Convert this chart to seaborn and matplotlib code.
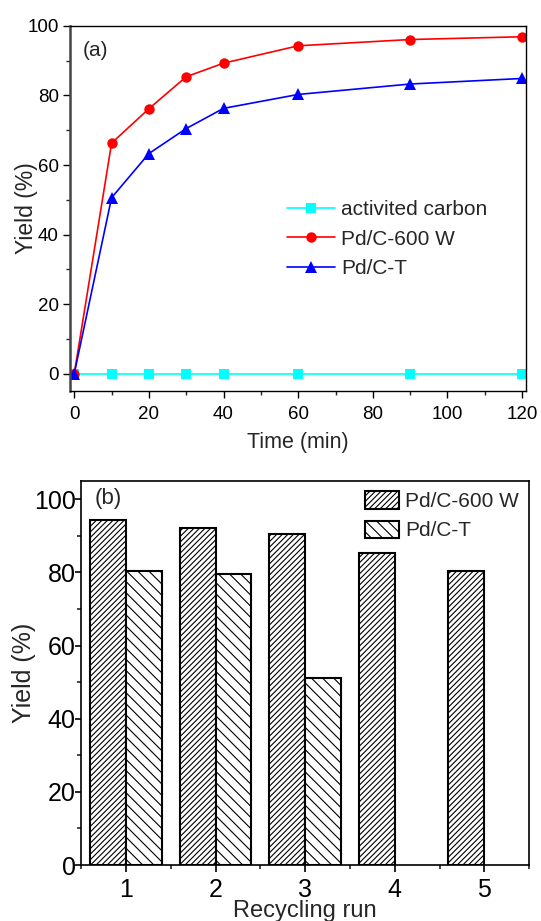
import numpy as np
import pandas as pd
import matplotlib
matplotlib.use("Agg")
import matplotlib.pyplot as plt
from matplotlib.ticker import MultipleLocator
import seaborn as sns

# ---- data -------------------------------------------------------------
time_min = [0, 10, 20, 30, 40, 60, 90, 120]
yield_carbon = [0, 0, 0, 0, 0, 0, 0, 0]
yield_pdc600w = [0, 66.3, 76.2, 85.4, 89.3, 94.3, 96.1, 96.9]
yield_pdct = [0, 50.6, 63.3, 70.5, 76.3, 80.3, 83.3, 84.9]
series_names = ["activited carbon", "Pd/C-600 W", "Pd/C-T"]

recycling_runs = [1, 2, 3, 4, 5]
recycle_pdc600w = [94.3, 92.2, 90.5, 85.2, 80.4]
recycle_pdct_runs = [1, 2, 3]
recycle_pdct = [80.4, 79.5, 51.1]
bar_names = ["Pd/C-600 W", "Pd/C-T"]

# ---- style ------------------------------------------------------------
sns.set_theme(style="ticks")
plt.rcParams["font.family"] = ["Liberation Sans", "DejaVu Sans"]
plt.rcParams["hatch.linewidth"] = 0.8
plt.rcParams["hatch.color"] = "black"

kinetics = pd.concat([
    pd.DataFrame({"time": time_min, "yield": vals, "catalyst": name})
    for name, vals in zip(series_names, [yield_carbon, yield_pdc600w, yield_pdct])
], ignore_index=True)

recycle = pd.concat([
    pd.DataFrame({"run": recycling_runs, "yield": recycle_pdc600w, "catalyst": bar_names[0]}),
    pd.DataFrame({"run": recycle_pdct_runs, "yield": recycle_pdct, "catalyst": bar_names[1]}),
], ignore_index=True)

fig = plt.figure(figsize=(5.41, 9.21), dpi=100)
ax1 = fig.add_axes([0.129, 0.5755, 0.843, 0.3963])
ax2 = fig.add_axes([0.150, 0.0608, 0.828, 0.417])

# ---- (a) yield vs time -------------------------------------------------
line_colors = {"activited carbon": "#00FFFF", "Pd/C-600 W": "#FF0000", "Pd/C-T": "#0000FF"}
line_markers = {"activited carbon": "s", "Pd/C-600 W": "o", "Pd/C-T": "^"}
sns.lineplot(data=kinetics, x="time", y="yield", hue="catalyst", style="catalyst",
             hue_order=series_names, style_order=series_names,
             palette=line_colors, markers=line_markers, dashes=False,
             markersize=7.5, markeredgewidth=0, linewidth=1.2,
             legend=False, ax=ax1)
for ln, name in zip(ax1.lines, series_names):
    if name == "activited carbon":
        ln.set_markersize(7)
    elif name == "Pd/C-T":
        ln.set_markersize(8.5)

ax1.set_xlim(-1.2, 121)
ax1.set_ylim(-5, 100)
ax1.set_xticks(range(0, 121, 20))
ax1.set_yticks(range(0, 101, 20))
ax1.xaxis.set_minor_locator(MultipleLocator(10))
ax1.yaxis.set_minor_locator(MultipleLocator(10))
ax1.tick_params(which="major", direction="out", length=5, width=1,
                labelsize=13.5, pad=3, colors="black")
ax1.tick_params(axis="x", which="major", pad=6)
ax1.tick_params(which="minor", direction="out", length=3, width=1)
ax1.set_xlabel("Time (min)", fontsize=15.5, labelpad=6)
ax1.set_ylabel("Yield (%)", fontsize=16.5, labelpad=-8)
for sp in ax1.spines.values():
    sp.set_color("black")
    sp.set_linewidth(1.0)
ax1.spines["left"].set_color("#444444")
ax1.spines["left"].set_linewidth(1.8)
ax1.text(0.028, 0.934, "(a)", transform=ax1.transAxes, fontsize=15,
         ha="left", va="center")
ax1.legend(handles=ax1.lines[:3], labels=series_names, loc="center left",
           bbox_to_anchor=(0.476, 0.416), frameon=False, borderpad=0,
           borderaxespad=0, handlelength=2.3, handletextpad=0.3,
           labelspacing=0.5, fontsize=15, numpoints=1)

# ---- (b) recycling runs -------------------------------------------------
sns.barplot(data=recycle, x="run", y="yield", hue="catalyst", hue_order=bar_names,
            palette={bar_names[0]: "white", bar_names[1]: "white"},
            native_scale=True, width=0.8, saturation=1, errorbar=None,
            edgecolor="black", linewidth=1.5, legend=False, ax=ax2)
for container, hatch in zip(ax2.containers, ["//////", "\\\\\\"]):
    for patch in container:
        patch.set_hatch(hatch)

ax2.set_xlim(0.5, 5.5)
ax2.set_ylim(0, 105)
ax2.set_xticks(recycling_runs)
ax2.set_xticklabels([str(r) for r in recycling_runs])
ax2.set_yticks(range(0, 101, 20))
ax2.xaxis.set_minor_locator(MultipleLocator(0.5))
ax2.yaxis.set_minor_locator(MultipleLocator(10))
ax2.tick_params(which="major", direction="out", length=5, width=1.2,
                labelsize=18, pad=4, colors="black")
ax2.tick_params(axis="y", which="major", length=4, pad=0)
ax2.tick_params(which="minor", direction="out", length=3, width=1.2)
ax2.set_xlabel("Recycling run", fontsize=17, labelpad=-1)
ax2.set_ylabel("Yield (%)", fontsize=18, labelpad=-2)
for sp in ax2.spines.values():
    sp.set_color("black")
    sp.set_linewidth(1.2)
ax2.text(0.029, 0.953, "(b)", transform=ax2.transAxes, fontsize=16,
         ha="left", va="center")
ax2.legend(handles=list(ax2.containers), labels=bar_names, loc="center left",
           bbox_to_anchor=(0.634, 0.909), frameon=False, borderpad=0,
           borderaxespad=0, handlelength=1.63, handleheight=0.9,
           handletextpad=0.3, labelspacing=0.45, fontsize=15)

fig.savefig("out.png", dpi=100)
